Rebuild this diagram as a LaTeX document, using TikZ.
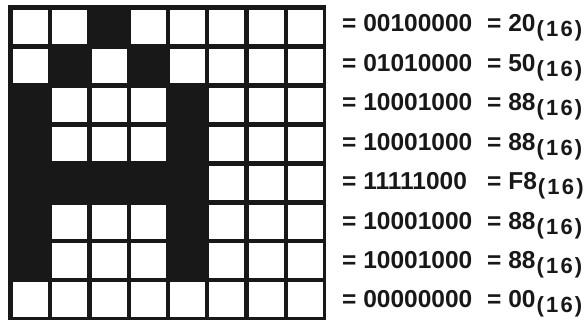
\documentclass[tikz,border=0pt]{standalone}
\usepackage{fontspec}
\setmainfont{Liberation Sans}
\usepackage{xstring}
\definecolor{tinta}{HTML}{181818}
\tikzset{
  bitlbl/.style={anchor=base west, inner sep=0pt, text=tinta,
    font=\fontsize{24.5}{28}\selectfont\bfseries},
}
\newcommand{\basehex}{\raisebox{-5pt}{\fontsize{22}{24}\selectfont\kern1pt(\kern2.2pt1\kern2.2pt6\kern2.2pt)}}

\begin{document}
\begin{tikzpicture}[x=1pt,y=-1pt]
  \useasboundingbox (0,0) rectangle (588,323);
  % marco negro
  \fill[tinta] (8,5) rectangle (326,320);
  % celdas blancas (bit 0) y texto de cada fila
  \foreach \bin/\hex [count=\i] in {00100000/20,01010000/50,10001000/88,10001000/88,
      11111000/F8,10001000/88,10001000/88,00000000/00}{
    \foreach \j in {1,...,8}{
      \StrChar{\bin}{\j}[\b]
      \ifnum\b=0 \fill[white] ({13+(\j-1)*39.25},{10+(\i-1)*38.9}) rectangle ++(35,34.5);\fi
    }
    \node[bitlbl] (bin\i) at (342,{32+(\i-1)*39.4}) {= \bin};
    \node[bitlbl] (hex\i) at (487,{32+(\i-1)*39.4}) {= \hex\basehex};
  }
\end{tikzpicture}
\end{document}
